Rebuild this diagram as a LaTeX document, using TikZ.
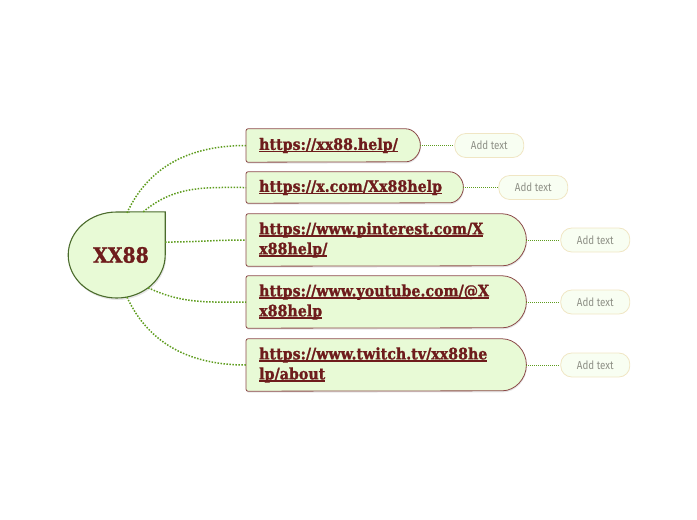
\documentclass[tikz,border=0pt]{standalone}
\usepackage{fontspec}
\setmainfont{DejaVu Serif}
\newfontfamily\linkfont{DejaVu Serif}[FakeStretch=0.9,FakeBold=1.2]
\newfontfamily\notefont{Fira Sans}[FakeStretch=0.85]
\newsavebox{\ulinebox}
\newcommand{\lnkline}[1]{\leavevmode\sbox{\ulinebox}{#1}\rlap{\rule[-2.2pt]{\wd\ulinebox}{1.2pt}}\usebox{\ulinebox}}
\usepackage{xcolor}
\usepackage{tikz}
\usetikzlibrary{positioning,calc,shapes.geometric,backgrounds,shadows}
\definecolor{leaf}{HTML}{E8FAD6}
\definecolor{twig}{HTML}{5E9C1E}
\definecolor{rim}{HTML}{4B6B2C}
\definecolor{wine}{HTML}{6E1C1C}
\definecolor{bark}{HTML}{8C4A4A}
\definecolor{cream}{HTML}{F0E6C4}
\definecolor{mist}{HTML}{F8FEF2}
\definecolor{ash}{HTML}{8E9086}

\begin{document}
\begin{tikzpicture}[x=1pt, y=1pt,
 hub/.style={ellipse,minimum width=97pt,minimum height=86pt,inner sep=0pt,text=wine,font=\linkfont\bfseries\fontsize{21}{21}\selectfont},
 hubrim/.style={draw=rim,line width=1.1pt,fill=leaf,drop shadow={shadow xshift=1pt,shadow yshift=-2pt,opacity=0.2}},
 lnk/.style={anchor=west,inner xsep=13pt,inner ysep=0pt,align=left,text=wine,font=\linkfont\bfseries\fontsize{15.8}{20}\selectfont},
 lnkbox/.style={draw=bark,line width=0.8pt,fill=leaf,rounded corners=2pt,drop shadow={shadow xshift=0.5pt,shadow yshift=-1.5pt,opacity=0.2}},
 addbox/.style={draw=cream,line width=0.8pt,fill=mist,rounded corners=11pt,minimum width=69pt,minimum height=24pt,inner sep=0pt,text=ash,font=\notefont\fontsize{11.5}{11.5}\selectfont},
 branch/.style={twig,line width=1.5pt,dash pattern=on 1.5pt off 1.5pt},
 spur/.style={twig,line width=1pt,dash pattern=on 1pt off 1pt}]
\useasboundingbox (0,0) rectangle (697,-520);
\node[hub] (hub) at (116.5,-255) {\hspace{9pt}XX88};
\coordinate (tip) at (hub.north -| hub.east);
\node[lnk,text width=148pt,minimum height=33pt] (l1) at (246,-145.5) {\lnkline{https://xx88.help/}};
\node[lnk,text width=191pt,minimum height=31pt] (l2) at (246,-187.5) {\lnkline{https://x.com/Xx88help}};
\node[lnk,text width=254pt,minimum height=52pt] (l3) at (246,-240) {\lnkline{https://www.pinterest.com/X}\\\lnkline{x88help/}};
\node[lnk,text width=254pt,minimum height=52pt] (l4) at (246,-302) {\lnkline{https://www.youtube.com/@X}\\\lnkline{x88help}};
\node[lnk,text width=254pt,minimum height=52pt] (l5) at (246,-365) {\lnkline{https://www.twitch.tv/xx88he}\\\lnkline{lp/about}};
\node[addbox,right=34pt of l1] (p1) {Add text};
\node[addbox,right=35pt of l2] (p2) {Add text};
\node[addbox,right=34pt of l3] (p3) {Add text};
\node[addbox,right=34pt of l4] (p4) {Add text};
\node[addbox,right=34pt of l5] (p5) {Add text};
\begin{scope}[on background layer]
\draw[hubrim] (hub.east) arc[start angle=0,end angle=-270,x radius=48.5,y radius=43] -- (tip) -- cycle;
\foreach \n/\r in {l1/16.5,l2/15.5,l3/26,l4/26,l5/26}
 \draw[lnkbox] (\n.north west) -- ([xshift=-\r]\n.north east) arc[start angle=90,end angle=-90,radius=\r] -- (\n.south west) -- cycle;
\end{scope}
\draw[branch] (hub.76) to[out=65,in=180] (l1.west);
\draw[branch] ($(hub.north)!0.55!(tip)$) to[out=40,in=180] (l2.west);
\draw[branch] ($(hub.east)!0.3!(tip)$) to[out=0,in=180] (l3.west);
\draw[branch] (hub.-46) to[out=-25,in=180] (l4.west);
\draw[branch] (hub.-76) to[out=-65,in=180] (l5.west);
\foreach \n in {1,...,5}
 \draw[spur] (l\n.east) -- (p\n.west);
\end{tikzpicture}
\end{document}
